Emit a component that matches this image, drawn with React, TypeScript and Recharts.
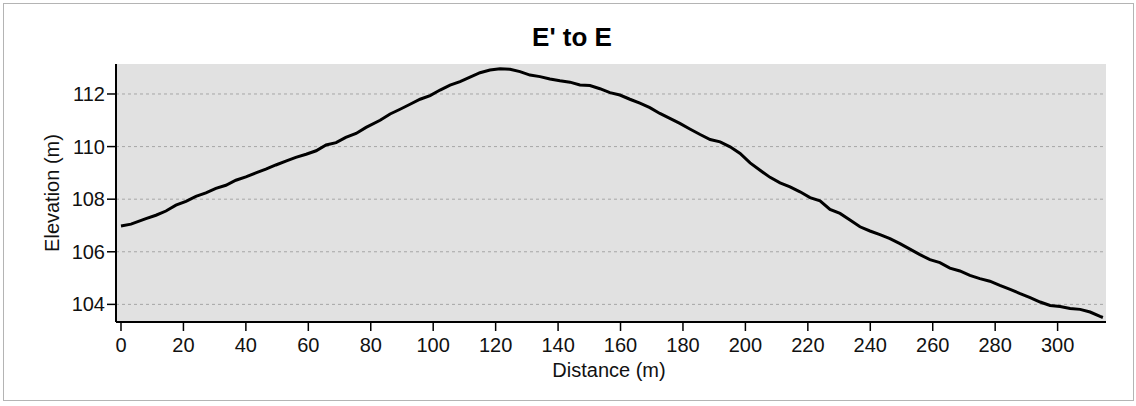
import { CartesianGrid, Label, Line, LineChart, XAxis, YAxis } from 'recharts';

// ----------------------------------------------------------------------

const distance = [
  0, 3.2, 8, 11.2, 14.4, 17.6, 20.8, 24, 27.2, 30.4, 33.6, 36.8, 40, 43.2, 46.4, 49.6, 52.8, 56,
  59.3, 62.5, 65.7, 68.9, 72, 75.3, 78.5, 83, 86.2, 89.4, 92.6, 95.8, 99, 102.2, 105.4, 108.6,
  111.8, 115, 118.2, 121.4, 124.6, 127.8, 131, 134.2, 137.4, 140.6, 143.8, 147, 150.2, 153.4,
  156.6, 159.8, 163, 166.2, 169.4, 172.6, 175.8, 179, 182.2, 185.5, 188.7, 191.9, 195.1, 198.3,
  201.5, 204.7, 207.9, 211.1, 214.3, 217.5, 220.7, 223.9, 227.1, 230.3, 233.5, 236.7, 239.9,
  243.1, 246.3, 249.5, 252.7, 255.9, 259.1, 262.3, 265.5, 268.7, 271.9, 275.1, 278.3, 281.5,
  284.8, 288, 291.2, 294.4, 297.6, 300.8, 304, 307.2, 310.4, 313.6, 314.5,
];

const elevation = [
  106.98, 107.05, 107.26, 107.39, 107.55, 107.77, 107.92, 108.11, 108.24, 108.41, 108.53, 108.72,
  108.85, 109.0, 109.14, 109.3, 109.45, 109.59, 109.71, 109.84, 110.06, 110.15, 110.35, 110.5,
  110.73, 111.0, 111.24, 111.42, 111.61, 111.8, 111.94, 112.15, 112.34, 112.47, 112.64, 112.81,
  112.91, 112.96, 112.94, 112.85, 112.72, 112.66, 112.57, 112.5, 112.45, 112.34, 112.32, 112.2,
  112.05, 111.96, 111.8, 111.65, 111.48, 111.26, 111.07, 110.88, 110.67, 110.46, 110.27, 110.18,
  109.99, 109.74, 109.38, 109.1, 108.83, 108.62, 108.47, 108.28, 108.06, 107.94, 107.61, 107.46,
  107.21, 106.95, 106.79, 106.65, 106.5, 106.31, 106.1, 105.89, 105.7, 105.59, 105.38, 105.27,
  105.1, 104.98, 104.88, 104.72, 104.57, 104.41, 104.26, 104.09, 103.96, 103.92, 103.84, 103.81,
  103.71, 103.54, 103.5,
];

const xTicks = [0, 20, 40, 60, 80, 100, 120, 140, 160, 180, 200, 220, 240, 260, 280, 300];
const yTicks = [104, 106, 108, 110, 112];

const data = distance.map((d, i) => ({ distance: d, elevation: elevation[i] }));

const FONT = '"Liberation Sans", Arial, sans-serif';

// ----------------------------------------------------------------------

export default function App() {
  return (
    <div style={{ position: 'absolute', left: 0, top: 0, width: 1136, height: 406, fontFamily: FONT }}>
      <div
        style={{
          position: 'absolute',
          left: 3,
          top: 3,
          width: 1129,
          height: 396,
          border: '1px solid #b4b4b4',
        }}
      />
      <div style={{ position: 'absolute', left: 0, top: 0 }}>
        <LineChart
          width={1136}
          height={406}
          data={data}
          margin={{ top: 64, right: 30, left: 0, bottom: 0 }}
        >
          <text x={572} y={46} textAnchor="middle" fontSize={26} fontWeight="bold" fill="#000" fontFamily={FONT}>
            E' to E
          </text>
          <CartesianGrid
            vertical={false}
            fill="#e1e1e1"
            stroke="#a6a6a6"
            strokeDasharray="3 3"
            horizontalValues={yTicks}
          />
          <XAxis
            dataKey="distance"
            type="number"
            domain={[-1.6, 315.5]}
            ticks={xTicks}
            interval={0}
            height={84}
            tickSize={9}
            tickMargin={7}
            axisLine={{ stroke: '#000', strokeWidth: 2 }}
            tickLine={{ stroke: '#000', strokeWidth: 1.5 }}
            tick={{ fill: '#111', fontSize: 20, fontFamily: FONT }}
          >
            <Label
              content={() => (
                <text x={609} y={377} textAnchor="middle" fontSize={20} fill="#111" fontFamily={FONT}>
                  Distance (m)
                </text>
              )}
            />
          </XAxis>
          <XAxis
            xAxisId="top"
            orientation="top"
            dataKey="distance"
            type="number"
            domain={[-1.6, 315.5]}
            height={0}
            tick={false}
            tickLine={false}
            axisLine={{ stroke: '#8c8c8c', strokeWidth: 1.5 }}
          />
          <YAxis
            type="number"
            domain={[103.33, 113.14]}
            ticks={yTicks}
            interval={0}
            width={116}
            tickSize={9}
            tickMargin={2}
            axisLine={{ stroke: '#000', strokeWidth: 2 }}
            tickLine={{ stroke: '#000', strokeWidth: 1.5 }}
            tick={{ fill: '#111', fontSize: 20, fontFamily: FONT }}
          >
            <Label
              content={() => (
                <text
                  x={0}
                  y={0}
                  transform="translate(59,193) rotate(-90)"
                  textAnchor="middle"
                  fontSize={20}
                  fill="#111"
                  fontFamily={FONT}
                >
                  Elevation (m)
                </text>
              )}
            />
          </YAxis>
          <YAxis
            yAxisId="right"
            orientation="right"
            type="number"
            domain={[103.33, 113.14]}
            width={0}
            tick={false}
            tickLine={false}
            axisLine={{ stroke: '#8c8c8c', strokeWidth: 1.5 }}
          />
          <Line
            type="linear"
            dataKey="elevation"
            stroke="#000"
            strokeWidth={3}
            dot={false}
            isAnimationActive={false}
          />
        </LineChart>
      </div>
    </div>
  );
}
